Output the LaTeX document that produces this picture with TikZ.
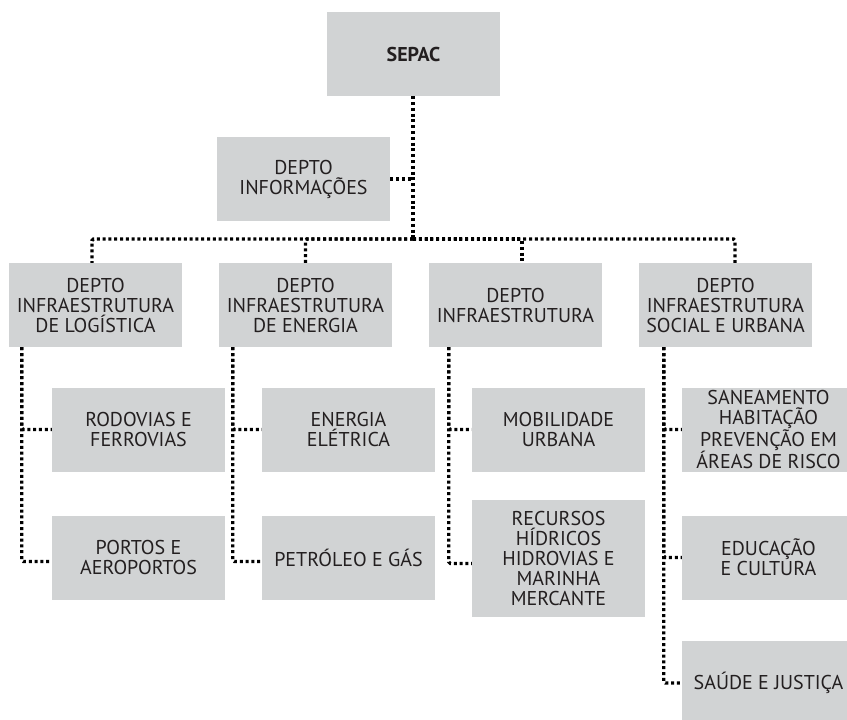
\documentclass[tikz,border=0pt]{standalone}
\usepackage{fontspec}
\setmainfont{PT Sans}
\usepackage{tikz}
\definecolor{boxgray}{HTML}{D1D3D4}
\definecolor{inkgray}{HTML}{231F20}
\tikzset{
  orgbox/.style={fill=boxgray, text=inkgray, minimum width=173pt, minimum height=84pt,
    inner sep=0pt, align=center, font=\fontsize{20}{20}\selectfont},
  dots/.style={line width=3.2pt, dash pattern=on 3pt off 2.8pt, rounded corners=1.5pt}
}
\begin{document}
\begin{tikzpicture}[x=1pt,y=-1pt]
\useasboundingbox (0,0) rectangle (847,720);
\node (sepac) at (413.5,54)[orgbox] {\bfseries SEPAC};
\node (info) at (303.5,179)[orgbox] {DEPTO\\INFORMAÇÕES};
\node (logist) at (95.5,305)[orgbox] {DEPTO\\INFRAESTRUTURA\\DE LOGÍSTICA};
\node (energ) at (305.5,305)[orgbox] {DEPTO\\INFRAESTRUTURA\\DE ENERGIA};
\node (infra) at (515.5,305)[orgbox] {DEPTO\\INFRAESTRUTURA};
\node (social) at (725.5,305)[orgbox] {DEPTO\\INFRAESTRUTURA\\SOCIAL E URBANA};
\node (rodo) at (138.5,429.5)[orgbox] {RODOVIAS E\\FERROVIAS};
\node (portos) at (138.5,557.5)[orgbox] {PORTOS E\\AEROPORTOS};
\node (eletr) at (348.5,429.5)[orgbox] {ENERGIA\\ELÉTRICA};
\node (petro) at (348.5,557.5)[orgbox] {PETRÓLEO E GÁS};
\node (mobil) at (558.5,429.5)[orgbox] {MOBILIDADE\\URBANA};
\node (recur) at (558.5,558.5)[orgbox, minimum height=117pt] {RECURSOS\\HÍDRICOS\\HIDROVIAS E\\MARINHA\\MERCANTE};
\node (sanea) at (768.5,429.5)[orgbox] {SANEAMENTO\\HABITAÇÃO\\PREVENÇÃO EM\\ÁREAS DE RISCO};
\node (educ) at (768.5,557.5)[orgbox] {EDUCAÇÃO\\E CULTURA};
\node (saude) at (768.5,683)[orgbox] {SAÚDE E JUSTIÇA};
\coordinate (bus) at (413,239);
\draw[dots] (sepac.south -| bus) -- (bus);
\draw[dots] (info.east) -- (info.east -| bus);
\draw[dots] (bus) -| ([xshift=-3.5pt]logist.north);
\draw[dots] (bus) -| (energ.north);
\draw[dots] (bus) -| ([xshift=6.5pt]infra.north);
\draw[dots] (bus) -| ([xshift=9.5pt]social.north);
\draw[dots] ([xshift=13pt]logist.south west) |- (rodo.west);
\draw[dots] ([xshift=13pt]logist.south west) |- ([yshift=-4pt]portos.west);
\draw[dots] ([xshift=14pt]energ.south west) |- (eletr.west);
\draw[dots] ([xshift=14pt]energ.south west) |- ([yshift=-4pt]petro.west);
\draw[dots] ([xshift=20pt]infra.south west) |- (mobil.west);
\draw[dots] ([xshift=20pt]infra.south west) |- ([yshift=-5pt]recur.west);
\draw[dots] ([xshift=25pt]social.south west) |- (sanea.west);
\draw[dots] ([xshift=25pt]social.south west) |- (educ.west);
\draw[dots] ([xshift=25pt]social.south west) |- (saude.west);
\end{tikzpicture}
\end{document}
